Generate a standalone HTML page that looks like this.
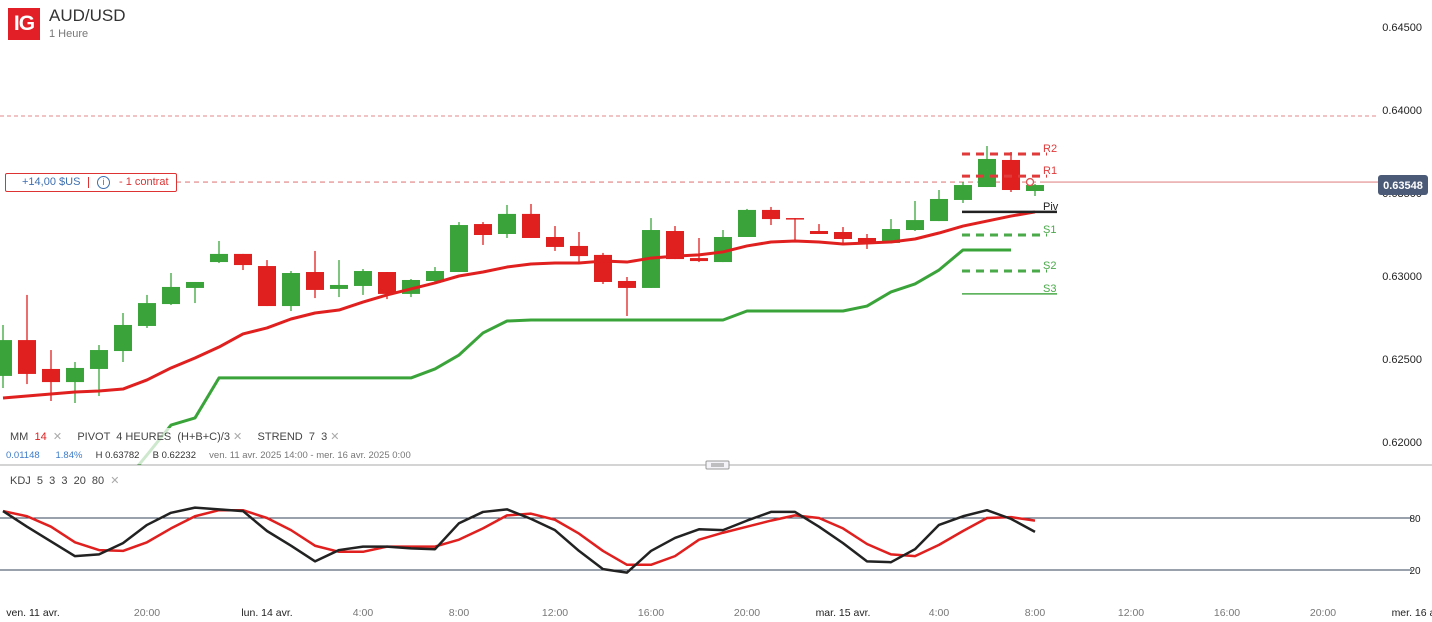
<!DOCTYPE html>
<html><head><meta charset="utf-8">
<style>
body{margin:0;width:1432px;height:622px;overflow:hidden;background:#fff;font-family:"Liberation Sans",sans-serif;}
svg{position:absolute;left:0;top:0;}
text{font-family:"Liberation Sans",sans-serif;}
</style></head>
<body>
<svg id="chart" width="1432" height="622">
  <defs><clipPath id="mainclip"><rect x="0" y="0" width="1378" height="465"/></clipPath></defs>
  <g id="grid"></g>
  <g id="main" clip-path="url(#mainclip)"></g>
  <g id="kdj"></g>
  <g id="axes"></g>
</svg>
<script>
// ---------- data ----------
const opens  = [.62398,.62614,.62440,.62361,.62440,.62548,.62699,.62831,.62928,.63084,.63133,.63060,.62819,.63024,.62922,.62940,.63024,.62892,.62970,.63024,.63313,.63253,.63374,.63235,.63181,.63127,.62970,.62928,.63271,.63108,.63084,.63235,.63398,.63349,.63271,.63265,.63229,.63199,.63277,.63331,.63458,.63536,.63699,.63512];
const closes = [.62614,.62410,.62361,.62446,.62554,.62705,.62837,.62934,.62964,.63133,.63066,.62819,.63018,.62916,.62946,.63030,.62892,.62976,.63030,.63307,.63247,.63374,.63229,.63175,.63120,.62964,.62928,.63277,.63102,.63090,.63235,.63398,.63343,.63346,.63253,.63223,.63193,.63283,.63337,.63464,.63548,.63705,.63518,.63548];
const highs  = [.62705,.62886,.62554,.62482,.62584,.62777,.62886,.63018,.62964,.63211,.63133,.63096,.63030,.63151,.63096,.63042,.63024,.62982,.63054,.63325,.63325,.63428,.63434,.63301,.63265,.63139,.62994,.63349,.63301,.63229,.63277,.63404,.63416,.63349,.63313,.63295,.63253,.63343,.63452,.63518,.63566,.63783,.63747,.63554];
const lows   = [.62325,.62349,.62247,.62235,.62277,.62482,.62687,.62825,.62837,.63078,.63036,.62819,.62789,.62867,.62873,.62886,.62861,.62873,.62958,.63024,.63187,.63229,.63229,.63151,.63078,.62952,.62759,.62928,.63102,.63084,.63084,.63235,.63307,.63205,.63253,.63199,.63163,.63199,.63271,.63331,.63440,.63536,.63506,.63482];
const maValues = [.62265,.62277,.62289,.62301,.62307,.62319,.62374,.62446,.62506,.62572,.62651,.62687,.62741,.62777,.62795,.62843,.62886,.62922,.62958,.63000,.63024,.63054,.63072,.63078,.63078,.63090,.63084,.63108,.63120,.63127,.63145,.63181,.63205,.63211,.63205,.63193,.63199,.63205,.63223,.63259,.63301,.63331,.63361,.63386];
const strendStart = 5;
const strendValues = [.61747,.61922,.62102,.62145,.62386,.62386,.62386,.62386,.62386,.62386,.62386,.62386,.62386,.62440,.62524,.62657,.62729,.62735,.62735,.62735,.62735,.62735,.62735,.62735,.62735,.62735,.62789,.62789,.62789,.62789,.62789,.62819,.62904,.62952,.63036,.63157,.63157,.63157];
const kValues = [88,70,53,36,38,51,72,86,92,90,88,65,48,30,43,47,47,45,44,74,87,90,79,66,42,21,17,42,57,67,66,77,87,87,70,51,30,29,44,72,82,89,79,64];
const dValues = [88,82,70,52,43,42,52,68,82,89,89,80,66,48,41,41,47,47,47,55,68,83,85,78,62,42,26,26,36,55,63,70,77,83,80,68,50,38,36,49,65,80,81,77];
const pivotNames  = ["R2","R1","Piv","S1","S2","S3"];
const pivotValues = [.63735,.63602,.63386,.63247,.63030,.62892];
const priceTicks  = [0.645,0.640,0.635,0.630,0.625,0.620];
const kdjTicks    = [80,20];
const timeLabels  = ["ven. 11 avr.","20:00","lun. 14 avr.","4:00","8:00","12:00","16:00","20:00","mar. 15 avr.","4:00","8:00","12:00","16:00","20:00","mer. 16 avr."];
const timeIndex   = [1.25,6,11,15,19,23,27,31,35,39,43,47,51,55,59];
const timeMajor   = [1,0,1,0,0,0,0,0,1,0,0,0,0,0,1];
const lastPrice = 0.63548, positionPrice = 0.63566, alertPrice = 0.63964;

// ---------- scales ----------
const xOf = i => 3 + 24*i;
const yOf = p => 27 + (0.645 - p)*16600;
const kY  = v => 570 - (v-20)*(52/60);
const NS = "http://www.w3.org/2000/svg";
function mk(tag, parent, attrs){const e=document.createElementNS(NS,tag);for(const k in attrs)e.setAttribute(k,attrs[k]);parent.appendChild(e);return e;}
const G=document.getElementById('grid'),M=document.getElementById('main'),K=document.getElementById('kdj'),A=document.getElementById('axes');
const GREEN="#3aa43a",RED="#e01f1f";

let l=mk('line',G,{x1:0,x2:1378,y1:yOf(alertPrice),y2:yOf(alertPrice),stroke:"#e08a8a","stroke-width":1,"stroke-dasharray":"4 3"});


l=mk('line',G,{x1:176,x2:1040,y1:yOf(positionPrice),y2:yOf(positionPrice),stroke:"#e08080","stroke-width":1.2,"stroke-dasharray":"5 4"});


l=mk('line',G,{x1:1040,x2:1378,y1:yOf(positionPrice),y2:yOf(positionPrice),stroke:"#e08a8a","stroke-width":1.2});



for(let i=0;i<opens.length;i++){
  const up=closes[i]>=opens[i], c=up?GREEN:RED, x=xOf(i);
  const g=mk('g',M,{});
  
  
  mk('line',g,{x1:x,x2:x,y1:yOf(highs[i]),y2:yOf(lows[i]),stroke:c,"stroke-width":1.3});
  const top=yOf(Math.max(opens[i],closes[i])), bot=yOf(Math.min(opens[i],closes[i]));
  mk('rect',g,{x:x-9,y:top,width:18,height:Math.max(bot-top,1.5),fill:c});
}
let pts=maValues.map((v,i)=>xOf(i)+","+yOf(v)).join(" ");
l=mk('polyline',M,{points:pts,fill:"none",stroke:RED,"stroke-width":3,"stroke-linejoin":"round"});


pts=strendValues.map((v,i)=>xOf(i+strendStart)+","+yOf(v)).join(" ");
l=mk('polyline',M,{points:pts,fill:"none",stroke:GREEN,"stroke-width":3,"stroke-linejoin":"round"});


pivotNames.forEach((n,j)=>{
  const y=yOf(pivotValues[j]);
  const col = n==="Piv" ? "#222" : (n[0]==="R" ? "#e03a3a" : "#4aaa4a");
  const solid = (n==="Piv"||n==="S3");
  const ln=mk('line',M,{x1:962,x2:solid?1057:1047,y1:y,y2:y,stroke:col,"stroke-width":n==="Piv"?2.5:(solid?1.5:3),"stroke-dasharray":solid?"none":"8 6"});
  
  
  const t=mk('text',M,{x:1043,y:y-2,"font-size":11,fill:n==="Piv"?"#222":col});
  t.textContent=n;
  
  
});
mk('circle',M,{cx:1030,cy:yOf(positionPrice),r:3.5,fill:"#fff",stroke:"#e05050","stroke-width":1.3});

priceTicks.forEach(p=>{
  const t=mk('text',A,{x:1422,y:yOf(p)+4,"font-size":11,"text-anchor":"end",fill:"#222"});
  t.textContent=p.toFixed(5);
  
  
});
const lp=mk('g',A,{});


mk('rect',lp,{x:1378,y:yOf(lastPrice)-10,width:50,height:20,rx:3,fill:"#4b5a77"});
const lpt=mk('text',lp,{x:1403,y:yOf(lastPrice)+4,"font-size":11,"font-weight":"bold","text-anchor":"middle",fill:"#fff"});
lpt.textContent=lastPrice.toFixed(5);

l=mk('line',A,{x1:0,x2:1432,y1:465,y2:465,stroke:"#aaa","stroke-width":1});


const hd=mk('rect',A,{x:706,y:461,width:23,height:8,rx:1,fill:"#f4f4f8",stroke:"#999"});


mk('line',A,{x1:711,x2:724,y1:464,y2:464,stroke:"#888"});
mk('line',A,{x1:711,x2:724,y1:466,y2:466,stroke:"#888"});

kdjTicks.forEach(v=>{
  const y=kY(v);
  const ln=mk('line',K,{x1:0,x2:1412,y1:y,y2:y,stroke:"#33445a","stroke-width":1});
  
  
  const t=mk('text',K,{x:1415,y:y+4,"font-size":10,"text-anchor":"middle",fill:"#222"});
  t.textContent=v;
  
  
});
pts=dValues.map((v,i)=>xOf(i)+","+kY(v)).join(" ");
l=mk('polyline',K,{points:pts,fill:"none",stroke:RED,"stroke-width":2.5,"stroke-linejoin":"round"});


pts=kValues.map((v,i)=>xOf(i)+","+kY(v)).join(" ");
l=mk('polyline',K,{points:pts,fill:"none",stroke:"#222","stroke-width":2.5,"stroke-linejoin":"round"});



timeLabels.forEach((s,j)=>{
  const t=mk('text',A,{x:xOf(timeIndex[j]),y:616,"font-size":10.5,"text-anchor":"middle",fill:timeMajor[j]?"#222":"#777"});
  t.textContent=s;
  
  
});
</script>

<div style="position:absolute;left:8px;top:8px;width:32px;height:32px;background:#e21e26;color:#fff;font-weight:bold;font-size:21px;line-height:32px;text-align:center;letter-spacing:-1px;">IG</div>
<div style="position:absolute;left:49px;top:6px;font-size:17px;color:#333;">AUD/USD</div>
<div style="position:absolute;left:49px;top:28px;font-size:11px;color:#777;">1 Heure</div>

<div style="position:absolute;left:5px;top:173px;width:170px;height:17px;border:1px solid #d33;border-radius:2px;background:#fff;font-size:11px;line-height:17px;">
  <span style="position:absolute;left:16px;color:#3d6fb0;">+14,00 $US</span>
  <span style="position:absolute;left:82px;top:3px;width:1px;height:11px;background:#d33;"></span>
  <span style="position:absolute;left:91px;top:2px;width:11px;height:11px;border:1px solid #3d6fb0;border-radius:50%;color:#3d6fb0;font-size:9px;line-height:11px;text-align:center;">i</span>
  <span style="position:absolute;left:113px;color:#d33;">- 1 contrat</span>
</div>

<div style="position:absolute;left:0;top:428px;width:360px;height:36px;background:rgba(255,255,255,0.75);"></div>
<div style="position:absolute;left:10px;top:430px;font-size:11px;color:#444;white-space:pre;"><span>MM  <span style="color:#e01f1f">14</span> </span><span style="color:#aaa"> ✕</span>     <span>PIVOT  4 HEURES  (H+B+C)/3</span><span style="color:#aaa"> ✕</span>     <span>STREND  7  3</span><span style="color:#aaa"> ✕</span></div>
<div style="position:absolute;left:6px;top:450px;font-size:9.5px;color:#333;white-space:pre;"><span style="color:#3d7cc9">0.01148</span>      <span style="color:#3d7cc9">1.84%</span>     H 0.63782     B 0.62232     <span style="color:#777">ven. 11 avr. 2025 14:00 - mer. 16 avr. 2025 0:00</span></div>
<div style="position:absolute;left:10px;top:474px;font-size:11px;color:#444;white-space:pre;"><span>KDJ  5  3  3  20  80 </span><span style="color:#aaa"> ✕</span></div>
</body></html>
